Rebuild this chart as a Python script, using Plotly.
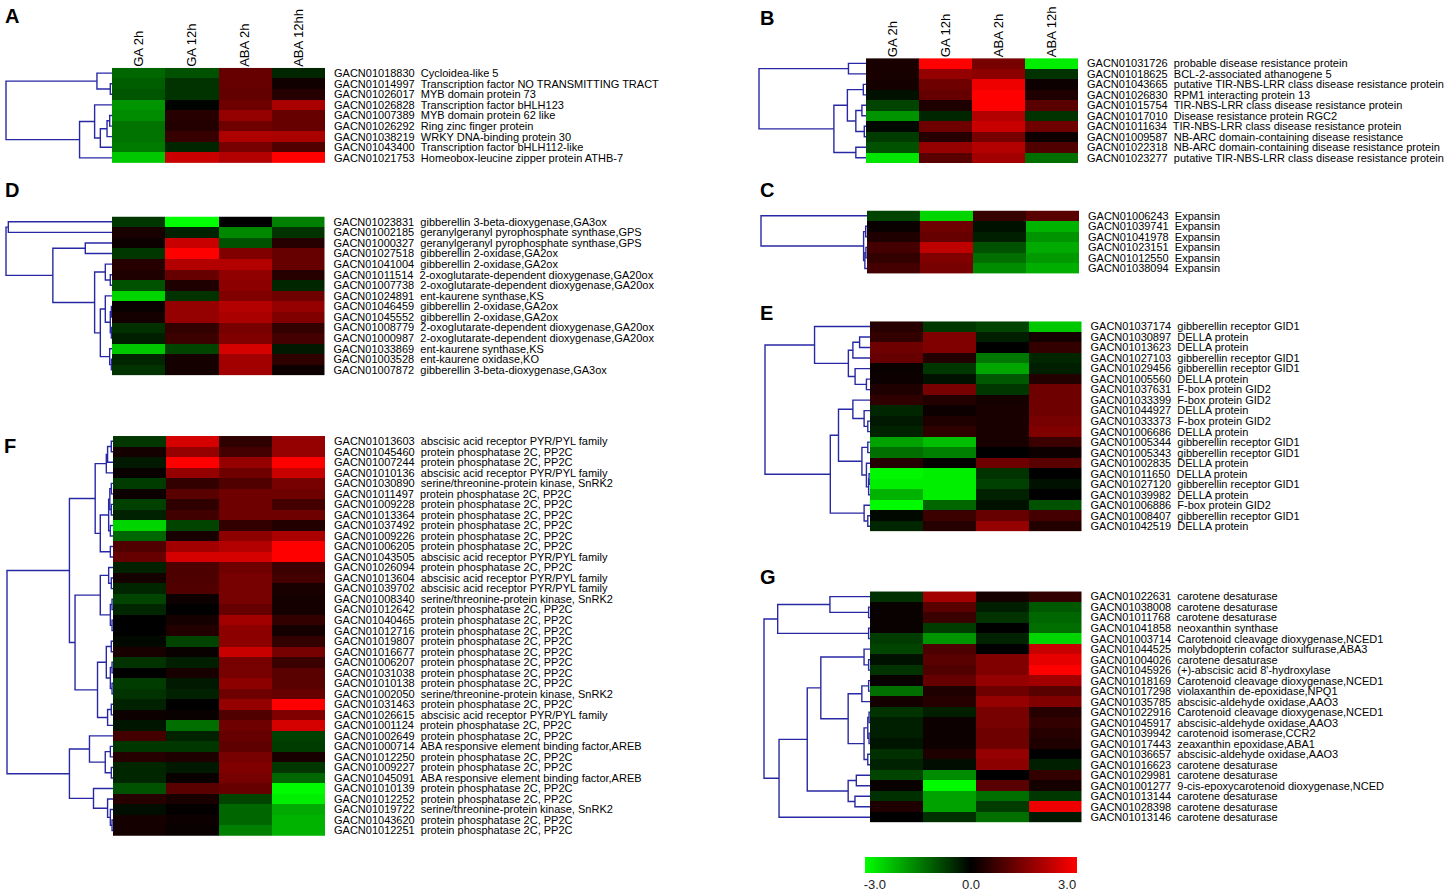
import plotly.graph_objects as go

# ---------------- data ----------------
conditions = ["GA 2h", "GA 12h", "ABA 2h", "ABA 12h"]
conditions_A = ["GA 2h", "GA 12h", "ABA 2h", "ABA 12hh"]

ids_A = ["GACN01018830", "GACN01014997", "GACN01026017", "GACN01026828", "GACN01007389",
         "GACN01026292", "GACN01038219", "GACN01043400", "GACN01021753"]
desc_A = ["Cycloidea-like 5", "Transcription factor NO TRANSMITTING TRACT", "MYB domain protein 73",
          "Transcription factor bHLH123", "MYB domain protein 62 like", "Ring zinc finger protein",
          "WRKY DNA-binding protein 30", "Transcription factor bHLH112-like",
          "Homeobox-leucine zipper protein ATHB-7"]
vals_A = [[-1.2, -0.95, 1.2, -0.45], [-1.1, -0.6, 1.2, 0.2], [-1.0, -0.6, 1.15, 0.45],
          [-1.75, -0.05, 1.3, 2.0], [-1.65, 0.45, 1.75, 1.2], [-1.35, 0.4, 1.3, 1.2],
          [-1.35, 0.65, 2.05, 2.0], [-1.45, -0.45, 1.4, 0.95], [-2.35, 2.35, 2.1, 3.0]]
tree_A = (1.0, (0.142, 0, (0.016, 1, 2)),
          (0.306, (0.164, 3, (0.110, (0.047, (0.022, 4, 5), 6), 7)), 8))

ids_B = ["GACN01031726", "GACN01018625", "GACN01043665", "GACN01026830", "GACN01015754",
         "GACN01017010", "GACN01011634", "GACN01009587", "GACN01022318", "GACN01023277"]
desc_B = ["probable disease resistance protein", "BCL-2-associated athanogene 5",
          "putative TIR-NBS-LRR class disease resistance protein", "RPM1 interacting protein 13",
          "TIR-NBS-LRR class disease resistance protein", "Disease resistance protein RGC2",
          "TIR-NBS-LRR class disease resistance protein", "NB-ARC domain-containing disease resistance",
          "NB-ARC domain-containing disease resistance protein",
          "putative TIR-NBS-LRR class disease resistance protein"]
vals_B = [[0.3, 3.0, 1.4, -2.8], [0.3, 1.75, 1.65, -0.6], [0.25, 1.3, 2.8, 0.15],
          [-0.2, 1.2, 3.0, 0.35], [-0.8, 0.35, 3.0, 1.05], [-1.75, -0.45, 2.1, -0.6],
          [-0.1, 1.3, 2.35, 1.3], [-0.7, 0.45, 1.4, 0.15], [-0.95, 1.75, 2.1, 0.95],
          [-2.7, 1.05, 1.9, -1.3]]
tree_B = (1.0, (0.164, 0, 1),
          (0.300, (0.174, (0.025, 2, 3), (0.095, (0.038, 4, 5), (0.016, 6, 7))), (0.095, 8, 9)))

ids_D = ["GACN01023831", "GACN01002185", "GACN01000327", "GACN01027518", "GACN01041004",
         "GACN01011514", "GACN01007738", "GACN01024891", "GACN01046459", "GACN01045552",
         "GACN01008779", "GACN01000987", "GACN01033869", "GACN01003528", "GACN01007872"]
desc_D = ["gibberellin 3-beta-dioxygenase,GA3ox", "geranylgeranyl pyrophosphate synthase,GPS",
          "geranylgeranyl pyrophosphate synthase,GPS", "gibberellin 2-oxidase,GA2ox",
          "gibberellin 2-oxidase,GA2ox", "2-oxoglutarate-dependent dioxygenase,GA20ox",
          "2-oxoglutarate-dependent dioxygenase,GA20ox", "ent-kaurene synthase,KS",
          "gibberellin 2-oxidase,GA2ox", "gibberellin 2-oxidase,GA2ox",
          "2-oxoglutarate-dependent dioxygenase,GA20ox", "2-oxoglutarate-dependent dioxygenase,GA20ox",
          "ent-kaurene synthase,KS", "ent-kaurene oxidase,KO", "gibberellin 3-beta-dioxygenase,GA3ox"]
vals_D = [[-0.65, -3.0, 0.0, -1.5], [0.3, -0.4, -1.6, -0.6], [0.15, 2.35, -0.95, 0.45],
          [-0.65, 3.0, 1.5, 1.2], [0.45, 2.1, 2.1, 1.2], [0.35, 1.2, 1.7, 0.45],
          [-0.95, 0.35, 1.65, -0.45], [-2.5, -0.6, 1.5, 1.3], [0.1, 1.75, 2.1, 1.75],
          [0.25, 1.75, 2.0, 1.5], [-0.55, 0.6, 1.4, 0.6], [-0.35, 0.7, 1.5, 0.8],
          [-2.35, -0.8, 2.5, -0.3], [-0.45, 0.25, 1.9, 0.55], [-0.6, 0.25, 1.9, 0.15]]
tree_D = (1.0, (0.978, 0, 1),
          (0.558, (0.252, 2, 3),
           (0.164, (0.063, 4, (0.016, 5, 6)),
            (0.110, (0.063, 7, (0.016, (0.006, 8, 9), (0.006, 10, 11))),
             (0.022, 12, (0.006, 13, 14))))))

ids_C = ["GACN01006243", "GACN01039741", "GACN01041978", "GACN01023151", "GACN01012550",
         "GACN01038094"]
desc_C = ["Expansin"] * 6
vals_C = [[-0.8, -2.5, 0.65, 1.05], [0.1, 1.3, -0.2, -2.1], [0.35, 1.2, -0.35, -1.75],
          [0.8, 2.25, -0.95, -2.0], [0.6, 1.5, -1.3, -1.8], [0.8, 1.4, -1.65, -2.05]]
tree_C = (1.0, 0, (0.032, (0.012, 1, 2), (0.02, (0.01, 3, 4), 5)))

ids_E = ["GACN01037174", "GACN01030897", "GACN01013623", "GACN01027103", "GACN01029456",
         "GACN01005560", "GACN01037631", "GACN01033399", "GACN01044927", "GACN01033373",
         "GACN01006686", "GACN01005344", "GACN01005343", "GACN01002835", "GACN01011650",
         "GACN01027120", "GACN01039982", "GACN01006886", "GACN01008407", "GACN01042519"]
desc_E = ["gibberellin receptor GID1", "DELLA protein", "DELLA protein", "gibberellin receptor GID1",
          "gibberellin receptor GID1", "DELLA protein", "F-box protein GID2", "F-box protein GID2",
          "DELLA protein", "F-box protein GID2", "DELLA protein", "gibberellin receptor GID1",
          "gibberellin receptor GID1", "DELLA protein", "DELLA protein", "gibberellin receptor GID1",
          "DELLA protein", "F-box protein GID2", "gibberellin receptor GID1", "DELLA protein"]
vals_E = [[0.45, -0.65, -0.8, -2.35], [0.6, 1.5, -0.35, 0.25], [1.3, 1.5, 0.0, 0.6],
          [1.2, 0.4, -1.4, -0.45], [0.1, -0.65, -1.95, -0.35], [0.15, -0.2, -1.05, 0.4],
          [0.35, 1.4, -0.65, 1.3], [0.55, 0.4, 0.25, 1.3], [-0.45, 0.15, 0.3, 1.3],
          [-0.3, 0.35, 0.3, 1.4], [-0.4, 0.55, 0.3, 1.5], [-1.9, -2.25, 0.3, 0.7],
          [-1.3, -1.5, 0.0, 0.15], [0.45, 0.05, 1.3, 1.05], [-2.9, -2.8, -0.6, 0.0],
          [-2.8, -2.8, -0.75, -0.2], [-2.1, -2.8, -0.4, 0.0], [-2.95, -1.2, -0.2, -0.95],
          [-0.1, 0.7, 1.2, 0.8], [-0.45, 0.45, 1.75, 0.4]]
tree_E = (1.0, (0.528, 0, (0.206, (0.163, (0.099, 1, 2), 3), (0.142, 4, (0.034, 5, 6)))),
          (0.378, (0.300, (0.163, 7, (0.056, 8, (0.021, 9, 10))),
                   (0.077, (0.021, 11, 12), (0.034, 13, (0.013, (0.009, 14, 15), 16)))),
           (0.056, 17, (0.021, 18, 19))))

ids_F = ["GACN01013603", "GACN01045460", "GACN01007244", "GACN01010136", "GACN01030890",
         "GACN01011497", "GACN01009228", "GACN01013364", "GACN01037492", "GACN01009226",
         "GACN01006205", "GACN01043505", "GACN01026094", "GACN01013604", "GACN01039702",
         "GACN01008340", "GACN01012642", "GACN01040465", "GACN01012716", "GACN01019807",
         "GACN01016677", "GACN01006207", "GACN01031038", "GACN01010138", "GACN01002050",
         "GACN01031463", "GACN01026615", "GACN01001124", "GACN01002649", "GACN01000714",
         "GACN01012250", "GACN01009227", "GACN01045091", "GACN01010139", "GACN01012252",
         "GACN01019722", "GACN01043620", "GACN01012251"]
PYR = "abscisic acid receptor PYR/PYL family"
PP2C = "protein phosphatase 2C, PP2C"
SNRK = "serine/threonine-protein kinase, SnRK2"
AREB = "ABA responsive element binding factor,AREB"
desc_F = [PYR, PP2C, PP2C, PYR, SNRK, PP2C, PP2C, PP2C, PP2C, PP2C, PP2C, PYR, PP2C, PYR, PYR,
          SNRK, PP2C, PP2C, PP2C, PP2C, PP2C, PP2C, PP2C, PP2C, SNRK, PP2C, PYR, PP2C, PP2C, AREB,
          PP2C, PP2C, AREB, PP2C, PP2C, SNRK, PP2C, PP2C]
vals_F = [[-0.65, 2.5, 0.55, 1.75], [0.25, 1.75, 0.8, 1.75], [-0.3, 3.0, 1.75, 3.0],
          [0.1, 1.75, 1.3, 2.35], [-0.7, 0.6, 0.95, 1.4], [0.15, 1.05, 1.3, 1.3],
          [-0.75, 0.55, 1.3, 0.8], [-0.4, 0.75, 1.3, 1.3], [-2.5, -0.8, 0.6, 0.4],
          [-1.2, 0.3, 1.65, 2.0], [0.95, 1.9, 2.1, 3.0], [1.2, 2.5, 2.5, 3.0],
          [-0.4, 0.9, 1.3, 0.7], [0.25, 0.9, 1.4, 0.8], [-0.45, 0.95, 1.4, 0.3],
          [-0.8, 0.15, 1.4, 0.25], [-0.45, 0.0, 1.2, 0.25], [0.0, 0.25, 1.9, 0.6],
          [0.0, 0.4, 1.65, 0.25], [-0.1, -0.8, 1.65, 0.6], [0.3, 0.1, 2.35, 1.4],
          [-0.6, -0.35, 1.4, 0.7], [0.0, 0.3, 1.4, 1.05], [-0.7, -0.3, 1.65, 1.05],
          [-0.6, -0.4, 1.3, 1.2], [-0.4, 0.0, 1.75, 3.0], [0.15, 0.1, 0.95, 1.5],
          [-0.25, -1.3, 1.3, 2.5], [0.8, -0.4, 1.2, -0.75], [-0.65, -0.65, 1.1, -0.7],
          [0.45, 0.35, 1.4, 0.3], [-0.45, -0.3, 1.5, -0.65], [-0.45, 0.1, 1.4, -1.2],
          [-0.95, 1.05, 1.2, -2.95], [0.45, 0.3, -0.8, -2.8], [-0.15, 0.05, -1.2, -2.0],
          [0.25, 0.15, -1.2, -2.1], [0.25, 0.1, -1.5, -2.1]]
tree_F = (1.0,
          (0.411,
           (0.168, (0.063, (0.051, (0.016, 0, 1), 2), 3),
            (0.120, (0.041, (0.030, (0.016, 4, 5), (0.016, 6, 7)), (0.025, 8, 9)), (0.025, 10, 11))),
           (0.358,
            (0.120, (0.041, 12, (0.016, 13, 14)), (0.025, (0.009, 15, 16), (0.009, 17, 18))),
            (0.146, (0.063, (0.016, 19, 20), (0.025, (0.009, 21, 22), (0.009, 23, 24))),
             (0.051, (0.016, 25, 26), 27)))),
          (0.411,
           (0.222, 28, (0.073, (0.025, 29, 30), (0.016, 31, 32))),
           (0.184, 33, (0.051, 34, (0.025, 35, (0.009, 36, 37))))))

ids_G = ["GACN01022631", "GACN01038008", "GACN01011768", "GACN01041858", "GACN01003714",
         "GACN01044525", "GACN01004026", "GACN01045926", "GACN01018169", "GACN01017298",
         "GACN01035785", "GACN01022916", "GACN01045917", "GACN01039942", "GACN01017443",
         "GACN01036657", "GACN01016623", "GACN01029981", "GACN01001277", "GACN01013144",
         "GACN01028398", "GACN01013146"]
desc_G = ["carotene desaturase", "carotene desaturase", "carotene desaturase", "neoxanthin synthase",
          "Carotenoid cleavage dioxygenase,NCED1", "molybdopterin cofactor sulfurase,ABA3",
          "carotene desaturase", "(+)-abscisic acid 8'-hydroxylase",
          "Carotenoid cleavage dioxygenase,NCED1", "violaxanthin de-epoxidase,NPQ1",
          "abscisic-aldehyde oxidase,AAO3", "Carotenoid cleavage dioxygenase,NCED1",
          "abscisic-aldehyde oxidase,AAO3", "carotenoid isomerase,CCR2", "zeaxanthin epoxidase,ABA1",
          "abscisic-aldehyde oxidase,AAO3", "carotene desaturase", "carotene desaturase",
          "9-cis-epoxycarotenoid dioxygenase,NCED", "carotene desaturase", "carotene desaturase",
          "carotene desaturase"]
vals_G = [[-0.55, 1.9, 0.25, 0.6], [0.1, 1.05, -0.35, -1.05], [0.1, 0.7, -0.6, -1.2],
          [0.1, -0.7, 0.0, -1.3], [-0.7, -1.75, -0.4, -2.5], [-0.8, 0.9, 0.0, 2.35],
          [-0.2, 1.05, 1.5, 2.7], [-0.6, 0.95, 1.5, 3.0], [0.1, 1.2, 1.75, 1.9],
          [-1.3, 0.35, 1.3, 1.05], [0.25, 0.45, 1.75, 1.5], [-0.6, -0.35, 1.4, 0.45],
          [-0.35, 0.15, 1.4, 0.6], [-0.35, 0.15, 1.3, 0.45], [-0.25, 0.15, 1.3, 0.35],
          [-0.55, 0.35, 1.75, 0.0], [-0.4, -0.15, 1.65, -0.35], [-0.8, -1.65, 0.0, 0.6],
          [0.1, -2.95, 1.05, 0.25], [-0.55, -1.9, -1.3, -0.65], [0.35, -1.9, -0.7, 2.8],
          [0.0, -0.55, -1.3, -0.3]]
tree_G = (1.0,
          (0.871, (0.378, 0, (0.013, 1, 2)), (0.013, 3, 4)),
          (0.858,
           (0.592,
            (0.464, (0.056, 5, (0.013, 6, 7)),
             (0.206, (0.077, (0.013, 8, 9), 10),
              (0.056, (0.021, (0.009, 11, 12), (0.009, 13, 14)), (0.021, 15, 16)))),
            (0.206, (0.129, 17, 18), (0.142, 19, 20))),
           21))

colorbar_ticks = ["-3.0", "0.0", "3.0"]

# ---------------- layout helpers ----------------
W, H = 1446, 893


def xp(px):
    return px / W


def yp(py):
    return 1 - py / H


def dendro_xy(tree):
    xs, ys = [], []

    def walk(node):
        if isinstance(node, int):
            return 0.0, float(node)
        h, left, right = node
        hl, yl = walk(left)
        hr, yr = walk(right)
        xs.extend([hl, h, h, hr, None])
        ys.extend([yl, yl, yr, yr, None])
        return h, (yl + yr) / 2.0

    walk(tree)
    return xs, ys


panels = [
    dict(letter="A", ids=ids_A, desc=desc_A, vals=vals_A, tree=tree_A,
         heat=(112, 325, 67, 162.5), root=6, cols=conditions_A, lpos=(3, 2)),
    dict(letter="B", ids=ids_B, desc=desc_B, vals=vals_B, tree=tree_B,
         heat=(866, 1078, 57.3, 162.3), root=759, cols=conditions, lpos=(758, 4)),
    dict(letter="D", ids=ids_D, desc=desc_D, vals=vals_D, tree=tree_D,
         heat=(112, 324.5, 216, 375), root=6, cols=None, lpos=(3, 176)),
    dict(letter="C", ids=ids_C, desc=desc_C, vals=vals_C, tree=tree_C,
         heat=(867, 1079, 210, 273.3), root=761, cols=None, lpos=(758, 176)),
    dict(letter="E", ids=ids_E, desc=desc_E, vals=vals_E, tree=tree_E,
         heat=(870, 1081.5, 321, 531.7), root=765, cols=None, lpos=(758, 300)),
    dict(letter="F", ids=ids_F, desc=desc_F, vals=vals_F, tree=tree_F,
         heat=(113, 325, 436, 836.7), root=7, cols=None, lpos=(2, 433)),
    dict(letter="G", ids=ids_G, desc=desc_G, vals=vals_G, tree=tree_G,
         heat=(870, 1081.5, 591.7, 823.3), root=764, cols=None, lpos=(758, 564)),
]

fig = go.Figure()
layout = dict()
annotations = []
LABEL_FONT = dict(family="Arial, Liberation Sans, sans-serif", size=11, color="black")

for i, p in enumerate(panels):
    hx = 2 * i + 1
    dx = 2 * i + 2
    n = len(p["ids"])
    l, r, t, b = p["heat"]
    ydom = [yp(b), yp(t)]

    fig.add_trace(go.Heatmap(
        z=p["vals"], x=list(range(4)), y=list(range(n)),
        coloraxis="coloraxis", xaxis="x%d" % hx, yaxis="y%d" % hx,
        hovertemplate="%{y}<br>%{x}: %{z}<extra></extra>"))

    xs, ys = dendro_xy(p["tree"])
    fig.add_trace(go.Scatter(
        x=xs, y=ys, mode="lines", xaxis="x%d" % dx, yaxis="y%d" % dx,
        line=dict(color="rgb(40,40,165)", width=1.4), hoverinfo="skip", showlegend=False))

    xa = dict(domain=[xp(l), xp(r)], range=[-0.5, 3.5], anchor="y%d" % hx,
              showgrid=False, zeroline=False, ticks="", fixedrange=True)
    if p["cols"]:
        xa.update(side="top", tickangle=-90, tickvals=list(range(4)), ticktext=p["cols"],
                  tickfont=dict(family="Arial, Liberation Sans, sans-serif", size=13, color="black"),
                  showticklabels=True)
    else:
        xa.update(showticklabels=False)
    ya = dict(domain=ydom, range=[n - 0.5, -0.5], anchor="x%d" % hx, side="right",
              tickvals=list(range(n)),
              ticktext=[a + "\u00a0 " + d for a, d in zip(p["ids"], p["desc"])],
              ticks="", ticklabelstandoff=8, tickfont=LABEL_FONT,
              showgrid=False, zeroline=False, fixedrange=True)
    w = l - p["root"]
    dxa = dict(domain=[xp(p["root"] - 0.02 * w), xp(l)], range=[1.02, 0],
               anchor="y%d" % dx, visible=False, fixedrange=True)
    dya = dict(domain=ydom, range=[n - 0.5, -0.5], anchor="x%d" % dx, visible=False,
               fixedrange=True)
    layout["xaxis" if hx == 1 else "xaxis%d" % hx] = xa
    layout["yaxis" if hx == 1 else "yaxis%d" % hx] = ya
    layout["xaxis%d" % dx] = dxa
    layout["yaxis%d" % dx] = dya

    annotations.append(dict(
        text="<b>%s</b>" % p["letter"], xref="paper", yref="paper",
        x=xp(p["lpos"][0]), y=yp(p["lpos"][1]), xanchor="left", yanchor="top",
        showarrow=False, font=dict(family="Arial, Liberation Sans, sans-serif", size=20,
                                   color="black")))

fig.update_layout(
    width=W, height=H, margin=dict(l=0, r=0, t=0, b=0),
    paper_bgcolor="white", plot_bgcolor="white", showlegend=False,
    annotations=annotations,
    coloraxis=dict(
        cmin=-3, cmax=3,
        colorscale=[[0, "rgb(0,255,0)"], [0.5, "rgb(0,0,0)"], [1, "rgb(255,0,0)"]],
        colorbar=dict(
            orientation="h", x=xp(971), xanchor="center", y=yp(858), yanchor="top",
            len=212 / W, lenmode="fraction", thickness=16, thicknessmode="pixels",
            outlinewidth=0, ticks="", xpad=0, ypad=0,
            tickvals=[-2.72, 0, 2.72], ticktext=colorbar_ticks,
            tickfont=dict(family="Arial, Liberation Sans, sans-serif", size=13, color="#222"))),
    **layout,
)

fig.write_html(
    "out.html",
    config={"displayModeBar": False},
    post_script="document.body.style.margin='0';document.body.style.padding='0';"
                "document.body.style.overflow='hidden';",
)
